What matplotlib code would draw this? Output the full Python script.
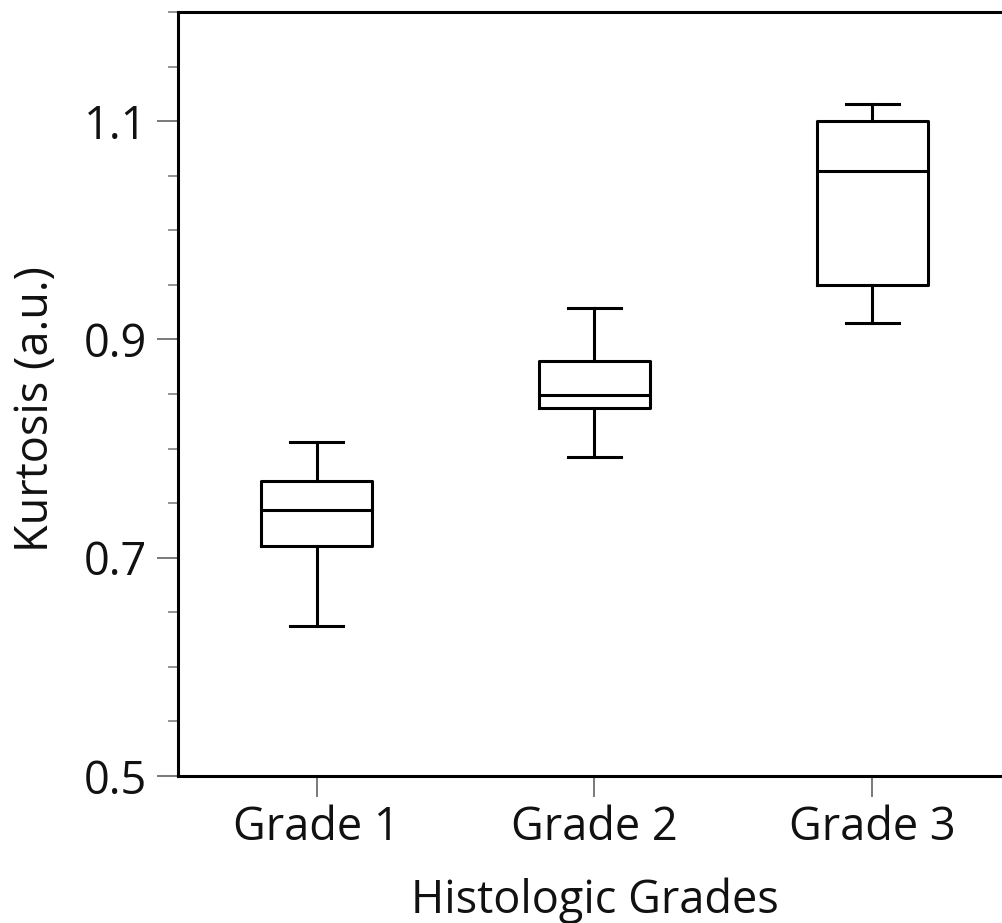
import numpy as np
import matplotlib.pyplot as plt
from matplotlib.ticker import MultipleLocator

plt.rcParams['font.family'] = ['Open Sans', 'DejaVu Sans']

# Box plot summary values
grades = ["Grade 1", "Grade 2", "Grade 3"]
whislo = [0.637, 0.792, 0.915]
q1 = [0.711, 0.837, 0.950]
med = [0.744, 0.849, 1.054]
q3 = [0.770, 0.880, 1.100]
whishi = [0.806, 0.929, 1.116]

stats = []
for i in range(len(grades)):
    stats.append(dict(label=grades[i], whislo=whislo[i], q1=q1[i], med=med[i],
                      q3=q3[i], whishi=whishi[i], fliers=[]))

W, H = 1003, 923
fig = plt.figure(figsize=(W / 100, H / 100), dpi=100)
ax = fig.add_axes([178 / W, (H - 776) / H, (1011 - 178) / W, (776 - 12) / H])

lw = 2.2
ax.bxp(stats, positions=[1, 2, 3], widths=0.4, showfliers=False,
       boxprops=dict(color='black', linewidth=lw),
       medianprops=dict(color='black', linewidth=lw),
       whiskerprops=dict(color='black', linewidth=lw),
       capprops=dict(color='black', linewidth=lw),
       capwidths=0.19)

ax.set_xlim(0.5, 3.5)
ax.set_ylim(0.5, 1.2)
ax.yaxis.set_minor_locator(MultipleLocator(0.05))
ax.set_yticks([0.5, 0.7, 0.9, 1.1])
ax.set_yticklabels(["0.5", "0.7", "0.9", "1.1"])

for s in ax.spines.values():
    s.set_linewidth(lw)

fs = 32.5
ax.tick_params(axis='both', which='major', length=15, width=1.1, color='#555555',
               labelsize=fs, pad=7, labelcolor='#111111')
ax.tick_params(axis='y', which='minor', length=7, width=1.1, color='#777777')
ax.tick_params(axis='x', which='major', pad=6)

ax.set_xlabel("Histologic Grades", fontsize=fs, color='#111111')
ax.set_ylabel("Kurtosis (a.u.)", fontsize=fs, color='#111111')
ax.xaxis.set_label_coords(0.5, -0.1335)
ax.yaxis.set_label_coords(-0.143, 0.48)

fig.savefig("out.png", dpi=100)
